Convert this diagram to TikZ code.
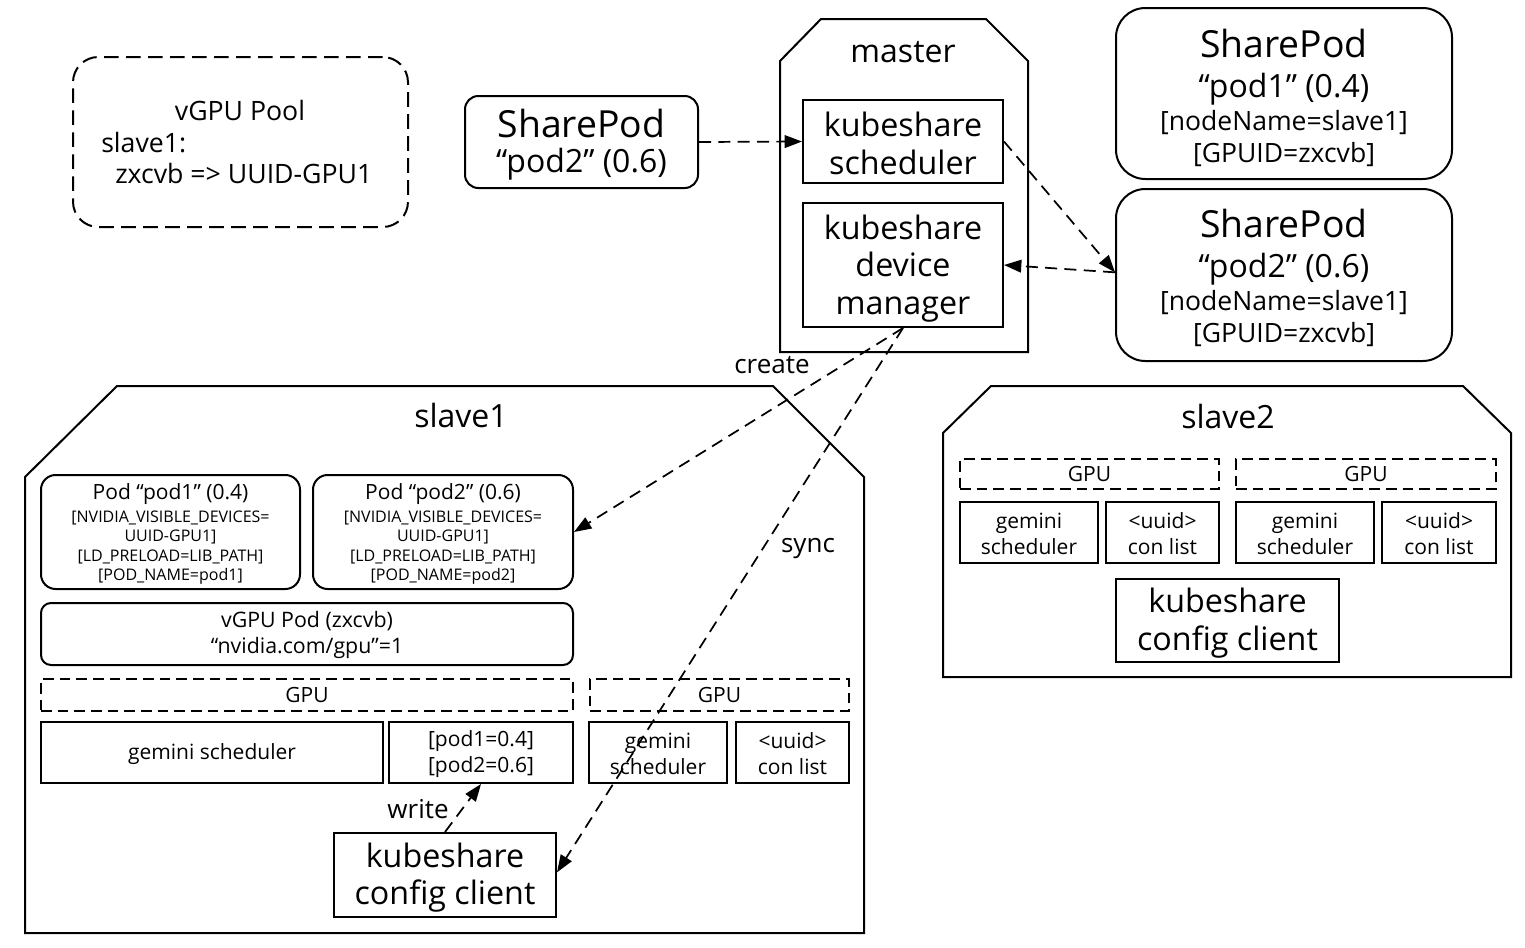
\documentclass[tikz,border=0pt]{standalone}
\usepackage{fontspec}
\setmainfont{Open Sans}
\usetikzlibrary{arrows.meta,fit}
\tikzset{
  f36/.style={font=\fontsize{28pt}{33pt}\selectfont},
  f32/.style={font=\fontsize{24pt}{29pt}\selectfont},
  f31/.style={font=\fontsize{24.2pt}{28.1pt}\selectfont},
  f30/.style={font=\fontsize{24pt}{28pt}\selectfont},
  f26/.style={font=\fontsize{19.5pt}{24pt}\selectfont},
  fpool/.style={font=\fontsize{20pt}{24pt}\selectfont},
  f25/.style={font=\fontsize{19.9pt}{24pt}\selectfont},
  f21/.style={font=\fontsize{15.75pt}{19.5pt}\selectfont},
  f20/.style={font=\fontsize{16pt}{19.5pt}\selectfont},
  f16/.style={font=\fontsize{12pt}{14.6pt}\selectfont},
  box/.style={draw, line width=1.5pt, inner sep=0pt},
  gpubox/.style={draw, line width=1.3pt, dash pattern=on 8pt off 4.5pt, inner sep=0pt},
  txt/.style={inner sep=0pt, align=center},
  hull/.style={draw, line width=1.5pt, line join=miter},
  lbl/.style={inner sep=0pt, anchor=base},
  conn/.style={line width=1.3pt, dash pattern=on 9pt off 5.5pt, -{Triangle[length=13pt,width=9.5pt]}},
}
\begin{document}
\begin{tikzpicture}[x=0.75pt,y=-0.75pt]
\useasboundingbox (0,0) rectangle (1525,947);

% vGPU pool
\node[box, dash pattern=on 11pt off 5.5pt, rounded corners=19pt, fit={(73,57)(408,227)}] (pool) {};
\node[lbl, fpool] (pooltitle) at (240,120) {vGPU Pool};
\node[lbl, fpool, anchor=base west] (poolslave) at (101,152) {slave1:};
\node[lbl, fpool, anchor=base west] (poolmap) at (115,183) {zxcvb => UUID-GPU1};

% left SharePod
\node[box, rounded corners=10pt, fit={(465,96)(698,188)}] (sp2l) {};
\node[lbl, f36] (sp2la) at (581.5,137) {SharePod};
\node[lbl, f32] (sp2lb) at (581.5,172) {“pod2” (0.6)};

% master
\draw[hull] (821,19) -- (986,19) -- (1028,61) -- (1028,352) -- (780,352) -- (780,61) -- cycle;
\node[lbl, f30] (masterlbl) at (903,62) {master};
\node[box, fit={(803,100)(1003,183)}] (sched) {};
\node[txt, f31] (schedt) at ([yshift=-1.5pt]sched.center) {kubeshare\\scheduler};
\node[box, fit={(803,203)(1003,327)}] (dm) {};
\node[txt, f31] (dmt) at ([yshift=-2.5pt]dm.center) {kubeshare\\device\\manager};

% right SharePods
\node[box, rounded corners=22pt, fit={(1116,8)(1452,179)}] (sp1r) {};
\node[lbl, f36] (sp1ra) at (1284,57) {SharePod};
\node[lbl, f32] (sp1rb) at (1284,97) {“pod1” (0.4)};
\node[lbl, f25] (sp1rc) at (1284,130) {[nodeName=slave1]};
\node[lbl, f25] (sp1rd) at (1284,162) {[GPUID=zxcvb]};

\node[box, rounded corners=22pt, fit={(1116,189)(1452,361)}] (sp2r) {};
\node[lbl, f36] (sp2ra) at (1284,237) {SharePod};
\node[lbl, f32] (sp2rb) at (1284,277) {“pod2” (0.6)};
\node[lbl, f25] (sp2rc) at (1284,310) {[nodeName=slave1]};
\node[lbl, f25] (sp2rd) at (1284,342) {[GPUID=zxcvb]};

% slave1
\draw[hull] (117,386) -- (773,386) -- (864,477) -- (864,933) -- (25,933) -- (25,477) -- cycle;
\node[lbl, f30] (s1lbl) at (461,427) {slave1};

\node[box, rounded corners=11pt, fit={(41,475)(300,589)}] (pod1) {};
\node[lbl, f21] (pod1a) at (170.5,499.5) {Pod “pod1” (0.4)};
\node[lbl, f16] (pod1b) at (170.5,522) {[NVIDIA\_VISIBLE\_DEVICES=};
\node[lbl, f16] (pod1c) at (170.5,541) {UUID-GPU1]};
\node[lbl, f16] (pod1d) at (170.5,561) {[LD\_PRELOAD=LIB\_PATH]};
\node[lbl, f16] (pod1e) at (170.5,580) {[POD\_NAME=pod1]};

\node[box, rounded corners=11pt, fit={(313,475)(573,589)}] (pod2) {};
\node[lbl, f21] (pod2a) at (443,499.5) {Pod “pod2” (0.6)};
\node[lbl, f16] (pod2b) at (443,522) {[NVIDIA\_VISIBLE\_DEVICES=};
\node[lbl, f16] (pod2c) at (443,541) {UUID-GPU1]};
\node[lbl, f16] (pod2d) at (443,561) {[LD\_PRELOAD=LIB\_PATH]};
\node[lbl, f16] (pod2e) at (443,580) {[POD\_NAME=pod2]};

\node[box, rounded corners=7.5pt, fit={(41,603)(573,665)}] (vpod) {};
\node[txt, f20] (vpodt) at ([yshift=-1pt]vpod.center) {vGPU Pod (zxcvb)\\“nvidia.com/gpu”=1};

\node[gpubox, fit={(41,679)(573,711)}] (gpu1a) {};
\node[txt, f21] (gpu1at) at (gpu1a.center) {GPU};
\node[gpubox, fit={(590,679)(849,711)}] (gpu1b) {};
\node[txt, f21] (gpu1bt) at (gpu1b.center) {GPU};
\node[box, fit={(41,722)(383,783)}] (gem1a) {};
\node[txt, f21] (gem1at) at ([yshift=-1.5pt]gem1a.center) {gemini scheduler};
\node[box, fit={(389,722)(573,783)}] (share1) {};
\node[txt, f21] (share1t) at ([yshift=-1pt]share1.center) {[pod1=0.4]\\{[pod2=0.6]}};
\node[box, fit={(589,722)(727,783)}] (gem1b) {};
\node[txt, f21] (gem1bt) at ([yshift=-1pt]gem1b.center) {gemini\\scheduler};
\node[box, fit={(736,722)(849,783)}] (uuid1b) {};
\node[txt, f21] (uuid1bt) at ([yshift=-1pt]uuid1b.center) {<uuid>\\con list};
\node[box, fit={(334,833)(556,917)}] (cc1) {};
\node[txt, f31] (cc1t) at ([yshift=-2pt]cc1.center) {kubeshare\\config client};

% slave2
\draw[hull] (991,386) -- (1463,386) -- (1511,433) -- (1511,677) -- (943,677) -- (943,433) -- cycle;
\node[lbl, f30] (s2lbl) at (1228,428) {slave2};
\node[gpubox, fit={(960,459)(1219,489)}] (gpu2a) {};
\node[txt, f21] (gpu2at) at (gpu2a.center) {GPU};
\node[gpubox, fit={(1236,459)(1496,489)}] (gpu2b) {};
\node[txt, f21] (gpu2bt) at (gpu2b.center) {GPU};
\node[box, fit={(960,502)(1098,563)}] (gem2a) {};
\node[txt, f21] (gem2at) at ([yshift=-1pt]gem2a.center) {gemini\\scheduler};
\node[box, fit={(1106,502)(1219,563)}] (uuid2a) {};
\node[txt, f21] (uuid2at) at ([yshift=-1pt]uuid2a.center) {<uuid>\\con list};
\node[box, fit={(1236,502)(1374,563)}] (gem2b) {};
\node[txt, f21] (gem2bt) at ([yshift=-1pt]gem2b.center) {gemini\\scheduler};
\node[box, fit={(1382,502)(1496,563)}] (uuid2b) {};
\node[txt, f21] (uuid2bt) at ([yshift=-1pt]uuid2b.center) {<uuid>\\con list};
\node[box, fit={(1116,579)(1339,662)}] (cc2) {};
\node[txt, f31] (cc2t) at ([yshift=-2pt]cc2.center) {kubeshare\\config client};

% connectors
\draw[conn] (sp2l.east) -- (sched.west);
\draw[conn] (sched.east) -- ([yshift=2pt]sp2r.west);
\draw[conn] ([yshift=2pt]sp2r.west) -- (dm.east);
\draw[conn] (dm.south) -- (pod2.east);
\draw[conn] (dm.south) -- ([yshift=2pt]cc1.east);
\draw[conn] (cc1.north) -- (share1.south);

% connector labels
\node[lbl, f26] (lcreate) at (772,373) {create};
\node[lbl, f26] (lsync) at (808,552) {sync};
\node[lbl, f26] (lwrite) at (418,818) {write};
\end{tikzpicture}
\end{document}
